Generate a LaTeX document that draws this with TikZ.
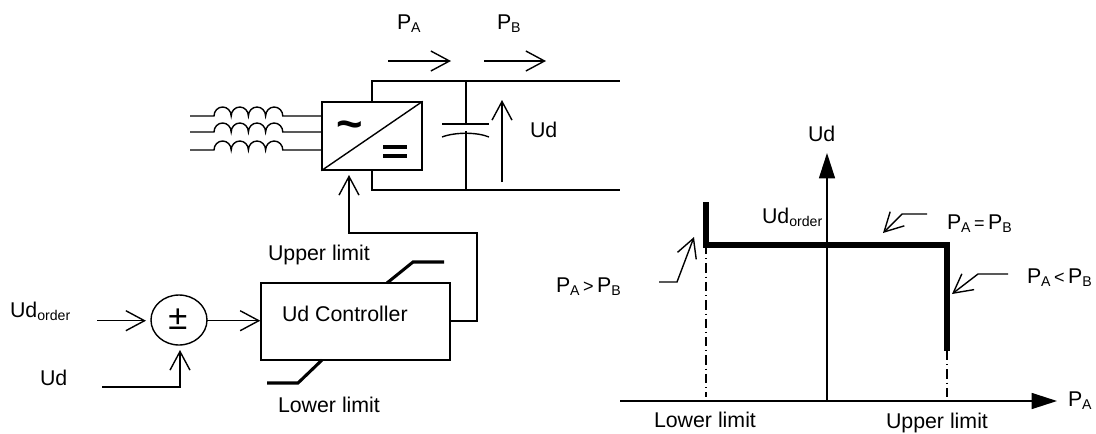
\documentclass[tikz,border=0pt]{standalone}
\usepackage{fontspec}
\setmainfont{Liberation Sans}
\usetikzlibrary{arrows.meta,calc}
\newcommand{\sbs}[1]{\raisebox{-0.32ex}{\fontsize{10.6}{12}\selectfont #1}}
\newcommand{\opr}[1]{\hspace{2.6pt}{\fontsize{13.5}{14}\selectfont #1}\hspace{2.6pt}}
\tikzset{
  wire/.style={line width=1.05pt,line cap=butt,line join=miter},
  barb/.style={wire,-{Straight Barb[length=14pt,width=15pt,line width=1.05pt]}},
  solidtip/.style={wire,-{Triangle[length=19pt,width=12pt,fill=black]}},
  thickline/.style={line width=2.3pt,line join=miter},
  heavy/.style={line width=4.4pt,line join=miter},
  dashdotv/.style={line width=0.9pt,dash pattern=on 7pt off 3pt on 0.8pt off 3pt},
  lbl/.style={anchor=base west,inner sep=0pt,outer sep=0pt,font=\fontsize{16}{18}\selectfont},
  boxn/.style={draw,wire,inner sep=0pt},
}
\begin{document}
\begin{tikzpicture}[x=0.75pt,y=-0.75pt]
\path[use as bounding box,fill=white] (0,0) rectangle (1096,433);

% converter
\node[boxn,minimum width=75pt,minimum height=51pt] (conv) at (372,136) {};
\draw[wire] (conv.south west) -- (conv.north east);
\node[inner sep=0pt,font=\fontsize{34}{34}\bfseries\selectfont] (tilde) at (350,130) {\char"7E};
\coordinate (eqA) at (383,147); \coordinate (eqB) at (407,147);
\coordinate (eqC) at (383,156); \coordinate (eqD) at (407,156);
\draw[line width=3pt] (eqA) -- (eqB) (eqC) -- (eqD);

% DC bus
\coordinate (busTL) at (372,81);  \coordinate (busTR) at (620,81);
\coordinate (busBL) at (372,190); \coordinate (busBR) at (620,190);
\draw[wire] (conv.north) -- (busTL) -- (busTR);
\draw[wire] (conv.south) -- (busBL) -- (busBR);

% capacitor
\coordinate (capT) at (466,81);  \coordinate (capP) at (466,124);
\coordinate (capQ) at (466,131); \coordinate (capB) at (466,190);
\coordinate (plL) at (442,124);  \coordinate (plR) at (489,124);
\coordinate (crL) at (442,137);  \coordinate (crR) at (489,137);
\draw[wire] (capT) -- (capP) (capQ) -- (capB) (plL) -- (plR);
\draw[wire] (crL) .. controls (455,132) and (477,132) .. (crR);

% inductors
\foreach \y/\n in {116/a,132/b,150/c}{
  \coordinate (in\n) at (190,\y);
  \coordinate (out\n) at (conv.west |- in\n);
  \draw[wire] (in\n) -- (214,\y)
     arc (180:360:8.6 and 9) arc (180:360:8.6 and 9)
     arc (180:360:8.6 and 9) arc (180:360:8.6 and 9) -- (out\n);
}

% power and voltage arrows
\coordinate (paA) at (388,61); \coordinate (paB) at (451,61);
\coordinate (pbA) at (484,61); \coordinate (pbB) at (546,61);
\draw[barb] (paA) -- (paB);
\draw[barb] (pbA) -- (pbB);
\coordinate (udA) at (502,182); \coordinate (udB) at (502,100);
\draw[barb] (udA) -- (udB);
\node[lbl] (tPA) at (397,29) {P\sbs{A}};
\node[lbl] (tPB) at (497,29) {P\sbs{B}};
\node[lbl] (tUd) at (530,137) {Ud};

% controller
\node[boxn,minimum width=141.75pt,minimum height=57.75pt] (ctrl) at (355.5,321.5) {};
\node[lbl] (tCtrl) at (282,321) {Ud Controller};
\draw[wire,fill=white] (179,320) ellipse (28 and 25);
\coordinate (sumE) at (207,320.7);
\node[inner sep=0pt,font=\fontsize{26}{26}\selectfont] (tPm) at (178,319.5) {±};
\coordinate (inUd) at (97,320.7);
\draw[barb] (inUd) -- (146,320.7);
\draw[barb] (sumE) -- (ctrl.west |- sumE);
\coordinate (fbA) at (102,387); \coordinate (fbB) at (180,387);
\draw[barb] (fbA) -- (fbB) -- (180,350);
\coordinate (outA) at (477,321); \coordinate (outB) at (477,233); \coordinate (outC) at (349,233);
\coordinate (convIn) at (349,175);
\draw[barb] (ctrl.east |- outA) -- (outA) -- (outB) -- (outC) -- (convIn);
\node[lbl] (tUdo) at (10,317) {Ud\sbs{order}};
\node[lbl] (tUd2) at (40,385) {Ud};
\node[lbl] (tUp) at (268,260) {Upper limit};
\node[lbl] (tLo) at (278,412) {Lower limit};
\coordinate (upA) at (387,283); \coordinate (upB) at (413,262); \coordinate (upC) at (444,262);
\draw[thickline] (upA) -- (upB) -- (upC);
\coordinate (loA) at (322,360); \coordinate (loB) at (298,383); \coordinate (loC) at (267,383);
\draw[thickline] (loA) -- (loB) -- (loC);

% characteristic
\coordinate (orig) at (827,401);
\coordinate (xS) at (620,401); \coordinate (xE) at (1057,401);
\coordinate (yE) at (827,153);
\draw[solidtip] (xS) -- (xE);
\draw[solidtip] (orig) -- (yE);
\coordinate (cA) at (706,202); \coordinate (cB) at (706,245);
\coordinate (cC) at (947,245); \coordinate (cD) at (947,351);
\draw[dashdotv] (cB) -- (706,397);
\draw[dashdotv] (cD) -- (947,401);
\draw[heavy] (cA) -- (cB) -- (cC) -- (cD);
\node[lbl] (tUdy) at (808,141) {Ud};
\node[lbl] (tUdo2) at (762,223) {Ud\sbs{order}};
\node[lbl] (tEq) at (947,229) {P\sbs{A}\opr{=}P\sbs{B}};
\node[lbl] (tLt) at (1027,283) {P\sbs{A}\opr{<}P\sbs{B}};
\node[lbl] (tGt) at (556,292) {P\sbs{A}\opr{>}P\sbs{B}};
\node[lbl] (tPx) at (1068,406) {P\sbs{A}};
\node[lbl] (tLo2) at (654,427) {Lower limit};
\node[lbl] (tUp2) at (886,428) {Upper limit};
\coordinate (eqa) at (927,214); \coordinate (eqb) at (902,214); \coordinate (eqc) at (883,233);
\draw[barb] (eqa) -- (eqb) -- (eqc);
\coordinate (lta) at (1008,274); \coordinate (ltb) at (978,274); \coordinate (ltc) at (952,294);
\draw[barb] (lta) -- (ltb) -- (ltc);
\coordinate (gta) at (659,282); \coordinate (gtb) at (677,282); \coordinate (gtc) at (694,237);
\draw[barb] (gta) -- (gtb) -- (gtc);
\end{tikzpicture}
\end{document}
